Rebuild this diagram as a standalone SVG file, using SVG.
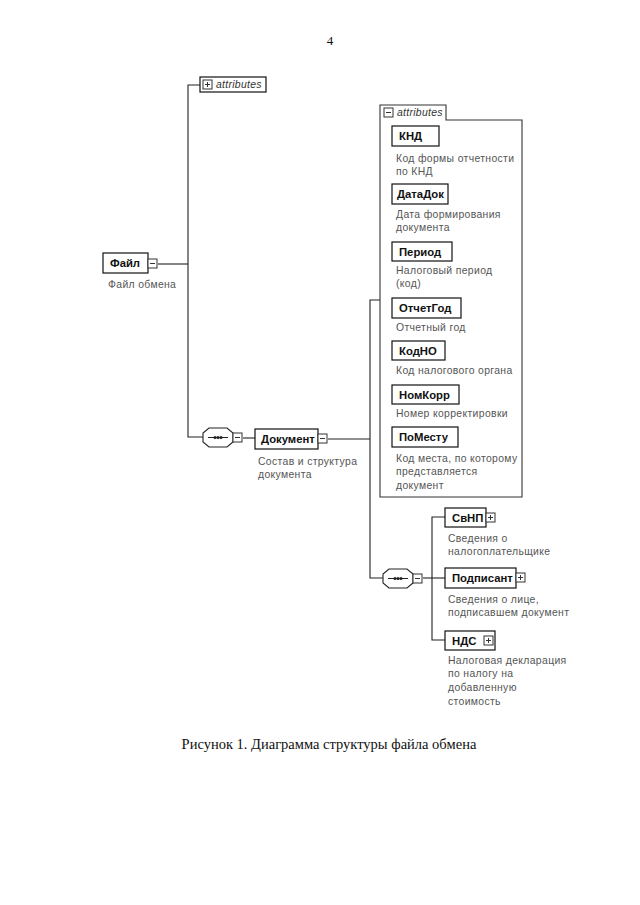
<svg xmlns="http://www.w3.org/2000/svg" width="640" height="905" viewBox="0 0 640 905">
<style>
.bg{fill:#fff}
.box{fill:#fff;stroke:#111;stroke-width:1.2}
.name{font-family:"Liberation Sans",Arial,sans-serif;font-weight:bold;font-size:11.3px;fill:#111}
.cap{font-family:"Liberation Sans",Arial,sans-serif;font-size:10.4px;letter-spacing:0.35px;fill:#555}
.ln{fill:none;stroke:#222;stroke-width:1.1}
.ita{font-family:"Liberation Sans",Arial,sans-serif;font-style:italic;font-size:10.4px;letter-spacing:0.3px;fill:#333}
.sm{fill:#fff;stroke:#333;stroke-width:1}
.serif{font-family:"Liberation Serif","Times New Roman",serif;fill:#111}
</style>
<defs>
<g id="minus"><rect class="sm" x="0" y="0" width="9" height="9"/><line x1="2" y1="4.5" x2="7" y2="4.5" stroke="#333" stroke-width="1"/></g>
<g id="plus"><rect class="sm" x="0" y="0" width="9" height="9"/><line x1="2" y1="4.5" x2="7" y2="4.5" stroke="#333" stroke-width="1"/><line x1="4.5" y1="2" x2="4.5" y2="7" stroke="#333" stroke-width="1"/></g>
<g id="seq"><path d="M6,0 H24 L30,5 V14 L24,19 H6 L0,14 V5 Z" fill="#fff" stroke="#222" stroke-width="1.1"/><line x1="5" y1="9.5" x2="25" y2="9.5" stroke="#222" stroke-width="1"/><circle cx="12" cy="9.5" r="1.5" fill="#222"/><circle cx="15" cy="9.5" r="1.5" fill="#222"/><circle cx="18" cy="9.5" r="1.5" fill="#222"/></g>
</defs>
<rect class="bg" width="640" height="905"/>
<text class="serif" x="330" y="45" font-size="13" text-anchor="middle">4</text>

<g id="connectors">
<polyline class="ln" points="200,85 188,85 188,437 203,437"/>
<line class="ln" x1="158" y1="264" x2="188" y2="264"/>
<line class="ln" x1="243" y1="438" x2="255" y2="438"/>
<polyline class="ln" points="328,439 370,439"/>
<polyline class="ln" points="380,300 370,300 370,578 383,578"/>
<line class="ln" x1="423" y1="578" x2="445" y2="578"/>
<polyline class="ln" points="445,517 432,517 432,640 445,640"/>
</g>

<g id="attributes-top">
<rect class="box" x="200" y="77" width="66" height="15"/>
<use href="#plus" x="203" y="80"/>
<text class="ita" x="216" y="88">attributes</text>
</g>

<g id="file">
<rect class="box" x="103" y="253" width="45" height="20"/>
<text class="name" x="110" y="267">Файл</text>
<use href="#minus" x="148" y="259"/>
<text class="cap" x="108" y="288">Файл обмена</text>
</g>

<g id="seq1"><use href="#seq" x="203" y="428"/><use href="#minus" x="233" y="433"/></g>

<g id="document">
<rect class="box" x="255" y="429" width="63" height="20"/>
<text class="name" x="261" y="443">Документ</text>
<use href="#minus" x="318" y="434"/>
<text class="cap" x="258" y="465">Состав и структура</text>
<text class="cap" x="258" y="478">документа</text>
</g>

<g id="attributes-panel">
<path d="M380,105 H446 V120 H522 V497 H380 Z" fill="#fff" stroke="#333" stroke-width="1.1"/>
<use href="#minus" x="384" y="108"/>
<text class="ita" x="397" y="116">attributes</text>
</g>

<g id="knd"><rect class="box" x="392" y="126" width="47" height="20"/><text class="name" x="399" y="140">КНД</text>
<text class="cap" x="396" y="162">Код формы отчетности</text><text class="cap" x="396" y="175">по КНД</text></g>
<g id="datadok"><rect class="box" x="392" y="184" width="56" height="20"/><text class="name" x="397" y="198">ДатаДок</text>
<text class="cap" x="396" y="218">Дата формирования</text><text class="cap" x="396" y="231">документа</text></g>
<g id="period"><rect class="box" x="392" y="242" width="60" height="19"/><text class="name" x="399" y="256">Период</text>
<text class="cap" x="396" y="274">Налоговый период</text><text class="cap" x="396" y="287">(код)</text></g>
<g id="otchetgod"><rect class="box" x="392" y="298" width="69" height="20"/><text class="name" x="399" y="312">ОтчетГод</text>
<text class="cap" x="396" y="331">Отчетный год</text></g>
<g id="kodno"><rect class="box" x="392" y="341" width="53" height="19"/><text class="name" x="399" y="355">КодНО</text>
<text class="cap" x="396" y="374">Код налогового органа</text></g>
<g id="nomkorr"><rect class="box" x="392" y="385" width="67" height="19"/><text class="name" x="399" y="399">НомКорр</text>
<text class="cap" x="396" y="417">Номер корректировки</text></g>
<g id="pomestu"><rect class="box" x="392" y="427" width="66" height="20"/><text class="name" x="399" y="441">ПоМесту</text>
<text class="cap" x="396" y="462">Код места, по которому</text><text class="cap" x="396" y="475">представляется</text><text class="cap" x="396" y="489">документ</text></g>

<g id="seq2"><use href="#seq" x="383" y="569"/><use href="#minus" x="413" y="574"/></g>

<g id="svnp"><rect class="box" x="445" y="508" width="41" height="19"/><text class="name" x="452" y="522">СвНП</text><use href="#plus" x="486" y="513"/>
<text class="cap" x="448" y="542">Сведения о</text><text class="cap" x="448" y="555">налогоплательщике</text></g>
<g id="podpisant"><rect class="box" x="445" y="568" width="71" height="20"/><text class="name" x="452" y="582">Подписант</text><use href="#plus" x="516" y="573"/>
<text class="cap" x="448" y="603">Сведения о лице,</text><text class="cap" x="448" y="616">подписавшем документ</text></g>
<g id="nds"><rect class="box" x="445" y="631" width="50" height="19"/><text class="name" x="452" y="645">НДС</text><use href="#plus" x="484" y="636"/>
<text class="cap" x="448" y="664">Налоговая декларация</text><text class="cap" x="448" y="677">по налогу на</text><text class="cap" x="448" y="691">добавленную</text><text class="cap" x="448" y="705">стоимость</text></g>

<text class="serif" x="329" y="749" font-size="14.5" text-anchor="middle">Рисунок 1. Диаграмма структуры файла обмена</text>
</svg>
